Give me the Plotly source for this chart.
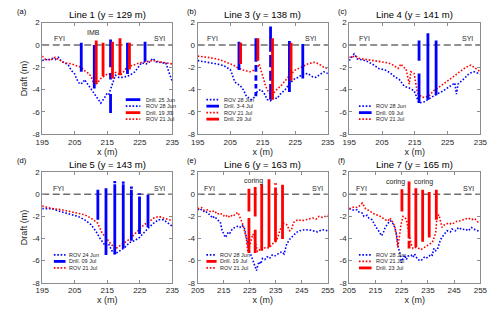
import plotly.graph_objects as go

BLUE = "#0000ff"
RED = "#ff0000"
FONT = "Liberation Sans, Arial, sans-serif"
TXT = "#262626"

# ---------------- data ----------------
y_tick_vals = [2, 0, -2, -4, -6, -8]
y_tick_text = ["2", "0", "-2", "-4", "-6", "-8"]
x_ticks_195 = [195, 205, 215, 225, 235]
x_ticks_205 = [205, 215, 225, 235, 245, 255]

titles = ["Line 1 (y = 129 m)", "Line 3 (y = 138 m)", "Line 4 (y = 141 m)",
          "Line 5 (y = 143 m)", "Line 6 (y = 163 m)", "Line 7 (y = 165 m)"]
panel_tags = ["(a)", "(b)", "(c)", "(d)", "(e)", "(f)"]

# (a) Line 1
a_rov_jun28_x = [195,196,197,198,199,200,201,202,203,204,205,205.5,206.5,207.5,208,209,210,211,212,213,
                 214,215,215.5,216.5,217.5,218.5,220,222,223.5,224.5,225.5,227,228,229,230,232,233,234,235]
a_rov_jun28_y = [-1.4,-1.3,-1.35,-1.2,-1.3,-1.1,-1.5,-1.6,-1.8,-2.3,-2.6,-3.0,-3.5,-3.4,-3.1,-3.5,-3.9,-4.4,-4.8,-5.2,
                 -4.8,-4.3,-4.4,-3.5,-2.7,-2.9,-2.9,-2.7,-2.4,-2.0,-1.6,-1.7,-1.5,-1.2,-1.5,-1.6,-1.6,-2.5,-3.3]
a_rov_jul21_x = [195,196,198,199,200,202,204,206,207,208,209,210,210.5,211,212,213,214,215,216,217,
                 218,219,220,221,222,223,224,225,227,229,231,233,235]
a_rov_jul21_y = [-1.0,-1.3,-1.3,-1.1,-1.3,-1.6,-1.7,-1.9,-2.0,-2.3,-2.5,-2.8,-3.3,-3.6,-3.4,-3.0,-2.8,-2.6,-2.6,-2.4,
                 -2.5,-2.7,-2.4,-2.0,-1.9,-1.8,-1.7,-1.6,-1.5,-1.4,-1.5,-1.6,-1.7]
a_drill_jun25_x = [207.0, 211.0, 216.0, 216.0, 216.0, 221.2, 226.6]
a_drill_jun25_top = [0.2, 0.0, 0.5, -2.5, -4.4, 0.2, 0.3]
a_drill_jun25_bot = [-2.4, -3.9, -2.0, -3.1, -6.1, -2.6, -1.5]
a_drill_jul19_x = [211.6, 213.7, 216.6, 218.9, 221.8]
a_drill_jul19_top = [0.4, 0.2, 0.3, 0.6, 0.2]
a_drill_jul19_bot = [-3.5, -2.8, -3.0, -2.7, -2.2]

# (b) Line 3
b_rov_jun28_x = [195,197,198,200,201,203,204,205,205.5,206.4,207.2,208,209,210,211,211.4,212.4,213.4,214.4,215.4,
                 216.4,217.4,218.4,219.4,220.4,221.9,223.4,224.9,226,226.8,228,228.8,230.3,231.3,232.3,233.8,235]
b_rov_jun28_y = [-1.4,-1.5,-1.55,-1.6,-1.7,-1.85,-2.0,-2.2,-2.55,-3.3,-3.5,-3.6,-4.0,-4.6,-4.8,-4.9,-4.7,-4.1,-4.0,-4.3,
                 -4.9,-5.0,-4.7,-4.8,-4.4,-4.0,-3.4,-3.0,-2.9,-2.7,-2.6,-2.55,-2.85,-2.9,-2.7,-2.4,-2.55]
b_rov_jul21_x = [195,197,198,200,201,203,204,206,207,209,211,212.4,213.4,213.9,214.5,215,215.9,216.9,218,218.9,
                 220.9,222.9,224.9,226.8,228.8,230.8,232.3,233.8,235]
b_rov_jul21_y = [-1.0,-1.05,-1.1,-1.2,-1.25,-1.45,-1.55,-1.8,-2.0,-2.25,-2.4,-2.25,-2.0,-1.7,-2.3,-2.8,-3.7,-4.3,-4.5,-4.1,
                 -3.55,-2.85,-2.25,-2.0,-1.7,-1.55,-1.7,-2.0,-2.1]
b_drill_jul03_x = [207.7, 212.9, 212.9, 212.9, 212.9, 212.9, 217.4, 217.4, 217.4, 217.4, 223.2, 227.3]
b_drill_jul03_top = [0.3, 0.6, -1.8, -2.7, -3.5, -4.2, 1.65, -0.9, -2.3, -3.5, 0.35, 0.1]
b_drill_jul03_bot = [-2.25, -1.5, -2.4, -3.2, -3.9, -4.6, -0.6, -2.0, -3.2, -4.9, -4.2, -3.0]
b_drill_jul29_x = [208.2, 213.5, 218.0, 223.7]
b_drill_jul29_top = [0.2, 0.6, 0.6, 0.2]
b_drill_jul29_bot = [-1.7, -1.4, -4.9, -3.2]

# (c) Line 4
c_rov_jun28_x = [195,196.5,197.5,198.5,200,202,204,206,207.5,208.9,210.3,211.8,213.3,214.8,215.5,
                 216.3,217.8,219.8,221.7,223.7,225.7,227.2,227.7,228.2,230.1,231.6,233.1,235]
c_rov_jun28_y = [-1.4,-0.8,-1.25,-1.3,-1.4,-1.7,-2.1,-2.25,-2.5,-2.85,-3.1,-3.7,-3.85,-4.1,-4.6,
                 -5.2,-5.1,-4.7,-4.4,-4.1,-3.7,-3.4,-4.4,-3.5,-3.0,-2.55,-2.4,-2.6]
c_rov_jul21_x = [195,197,198,200,203,204.9,206.9,208.4,209.9,210.8,211.5,212.3,213.0,213.3,213.8,
                 214.8,215.8,217.3,219.3,220.7,222.7,224.7,226.7,228.7,230.6,232.1,233.6,235]
c_rov_jul21_y = [-1.1,-1.0,-1.2,-1.3,-1.4,-1.55,-1.6,-1.8,-2.1,-1.7,-2.0,-2.1,-2.9,-3.5,-2.4,
                 -2.55,-4.3,-4.7,-4.6,-4.1,-3.7,-3.3,-2.85,-2.4,-2.0,-1.8,-2.1,-2.4]
c_drill_jul09_x = [216.3, 216.3, 219.0, 221.5]
c_drill_jul09_top = [0.4, -2.55, 1.05, 0.4]
c_drill_jul09_bot = [-1.4, -5.2, -4.9, -4.5]

# (d) Line 5
d_rov_jun24_x = [195,198,201,204,206,208,210,211.4,212.9,214.4,215.4,216.4,217.4,218.9,220.4,
                 221.9,223.4,224.9,226.3,227.8,229.3,230.8,232.3,233.8,235]
d_rov_jun24_y = [-1.3,-1.3,-1.6,-1.85,-2.0,-2.3,-2.75,-3.3,-4.05,-4.65,-4.5,-5.1,-5.4,-5.1,-4.8,
                 -4.35,-4.2,-3.9,-3.45,-3.0,-2.6,-2.3,-2.3,-2.6,-2.9]
d_rov_jul21_x = [195,198,201,204,206,208,210,212,213.4,214.9,216.4,217.4,218.9,220.4,221.9,
                 223.4,224.9,226.3,227.8,229.3,230.8,232.3,233.8,235]
d_rov_jul21_y = [-1.05,-1.3,-1.4,-1.6,-1.7,-1.85,-2.15,-2.6,-3.5,-4.05,-4.65,-4.95,-4.65,-4.35,-4.05,
                 -3.6,-3.2,-2.75,-2.5,-2.15,-2.0,-2.15,-2.3,-2.4]
d_drill_jul09_x = [212.1, 214.6, 217.3, 217.3, 219.9, 219.9, 222.4, 222.4, 224.9, 224.9, 227.5]
d_drill_jul09_top = [0.4, 0.55, 1.2, 0.9, 1.15, 0.9, 0.7, 0.4, 0.1, -0.2, -0.05]
d_drill_jul09_bot = [-2.3, -5.5, 1.0, -5.45, 0.95, -4.9, 0.5, -4.2, -0.05, -3.6, -3.0]

# (e) Line 6
e_rov_jun28_x = [205,206,206.9,208,208.7,210,210.6,211.5,212.5,213.7,214.3,215,215.6,216.2,216.8,
                 217.4,218.4,219.3,220.3,221.2,222.1,223,223.6,224.3,224.9,225.5,226.2,226.8,227.6,228.1,
                 228.6,229.2,229.9,230.8,231.7,232.6,233.6,234.5,235.5,236.4,237.3,238.2,239.2,240.4,241.7,
                 242.9,244.2,246,248.5,251,252.9,255]
e_rov_jun28_y = [-1.4,-1.3,-1.55,-1.5,-1.7,-1.9,-2.15,-2.0,-2.3,-2.5,-3.2,-3.6,-3.9,-3.7,-3.4,
                 -3.5,-3.1,-3.0,-2.9,-3.0,-2.8,-3.1,-3.8,-4.5,-5.2,-5.5,-6.0,-6.3,-6.9,-6.4,
                 -6.1,-6.3,-5.8,-5.9,-5.65,-5.8,-5.5,-5.6,-5.4,-5.3,-5.2,-5.4,-4.5,-4.05,-3.75,
                 -3.45,-3.3,-3.2,-3.25,-3.4,-3.2,-3.3]
e_rov_jul21_x = [205,206.5,207.5,209,210,211.5,212.5,213.7,215,215.6,216.8,217.4,218.7,219.3,220.5,
                 221.2,222.4,223.1,223.7,224.3,225,225.5,226.2,226.8,227.5,228,229.3,229.9,231.1,232.4,
                 233.6,234.9,235.5,236.1,236.7,237.4,238,239.2,239.8,240.4,241.1,241.7,242.3,243.6,245,
                 246.7,248,249.2,250.5,251.6,253,255]
e_rov_jul21_y = [-1.3,-1.2,-1.45,-1.4,-1.6,-1.5,-1.8,-1.7,-1.95,-1.85,-2.1,-1.9,-2.0,-1.8,-1.65,
                 -2.1,-2.75,-3.4,-4.05,-5.2,-4.6,-4.3,-3.6,-4.0,-4.6,-5.2,-4.9,-5.0,-4.8,-4.85,
                 -4.5,-4.3,-4.05,-3.6,-3.2,-2.9,-2.6,-2.75,-3.1,-3.3,-3.2,-2.6,-2.45,-2.3,-2.4,
                 -2.3,-2.2,-2.15,-2.25,-2.0,-2.1,-1.9]
e_drill_jul19_x = [224.7, 224.7, 227.1, 227.1, 229.6, 232.4, 234.9, 234.9, 237.6]
e_drill_jul19_top = [0.5, -2.15, 0.65, -3.2, 0.9, 1.35, 1.0, 0.6, 0.85]
e_drill_jul19_bot = [-1.55, -5.3, -2.0, -5.3, -5.1, -4.8, 0.85, -4.3, -4.05]

# (f) Line 7
f_rov_jun28_x = [205,206,206.9,208,208.7,210,210.6,211.8,212.5,213.7,214.3,215,216.2,217.4,218.1,
                 218.7,219.9,220.5,221.2,222.4,223.1,223.7,224.3,224.9,225.5,226.1,226.8,227.4,228.6,229.3,
                 229.9,231.1,232.4,233.6,234.2,235.5,236.1,236.7,237.3,238,238.6,239.2,239.8,241.1,242.3,
                 243.6,244.2,245.5,246.7,248,249.2,250.5,251.6,253,255]
f_rov_jun28_y = [-1.3,-1.4,-1.45,-1.4,-1.6,-1.7,-2.0,-1.9,-2.15,-2.3,-2.6,-2.9,-3.3,-3.75,-3.4,
                 -3.0,-2.6,-2.4,-2.45,-3.0,-3.7,-4.8,-5.3,-6.2,-5.8,-5.5,-5.9,-5.6,-5.5,-5.7,
                 -5.4,-5.9,-6.0,-5.7,-5.8,-5.6,-5.4,-5.5,-4.9,-5.1,-5.0,-4.5,-4.1,-3.65,-3.3,
                 -3.4,-3.15,-3.3,-3.0,-3.2,-3.15,-3.3,-3.0,-3.2,-3.4]
f_rov_jul21_x = [205,206,206.9,208,208.7,210,210.6,211.2,212,213.1,214.3,215,216.2,216.8,218,
                 218.7,219.9,220.5,221.8,222.4,223,223.5,224.1,224.7,225.5,226.2,226.8,227.4,228,228.6,
                 229.3,230.5,231.1,232.4,233,234.2,234.9,236.1,236.7,237.4,238,238.3,238.6,239.2,239.8,
                 240.4,241.1,241.7,242.9,244.2,246,247.3,248.5,250.4,251.6,252.9,254,255]
f_rov_jul21_y = [-1.3,-1.2,-1.15,-1.2,-1.1,-0.8,-1.0,-1.3,-1.4,-1.55,-1.7,-1.85,-1.9,-2.0,-2.2,
                 -2.3,-2.4,-2.15,-2.6,-3.0,-3.75,-4.8,-3.9,-2.8,-2.0,-2.1,-2.3,-3.0,-3.75,-4.5,
                 -4.9,-4.8,-4.85,-5.0,-4.9,-4.7,-4.6,-4.45,-4.35,-3.9,-3.45,-2.5,-2.0,-1.85,-2.6,
                 -3.0,-2.8,-2.75,-2.6,-2.7,-2.45,-2.4,-2.3,-2.15,-2.3,-2.2,-2.5,-2.6]
f_drill_jul23_x = [225.1, 227.8, 227.8, 230.4, 233.0, 235.5, 238.2]
f_drill_jul23_top = [0.45, 1.15, -4.2, 0.55, 0.4, 0.2, 0.4]
f_drill_jul23_bot = [-1.55, -4.0, -4.9, -4.8, -4.3, -3.9, -2.3]

# ---------------- helpers ----------------
def segs(xs, tops, bots):
    X, Y = [], []
    for x, t, b in zip(xs, tops, bots):
        X += [x, x, None]
        Y += [t, b, None]
    return X, Y

def rov(name, color, xs, ys):
    assert len(xs) == len(ys), name
    return dict(name=name, kind="rov", color=color, x=xs, y=ys)

def drill(name, color, xs, tops, bots):
    assert len(xs) == len(tops) == len(bots), name
    X, Y = segs(xs, tops, bots)
    return dict(name=name, kind="drill", color=color, x=X, y=Y)

# legend geometry in window pixels: (line start x, first row y, line length, text x)
panels = [
    dict(xr=[195, 235], xt=x_ticks_195,
         series=[rov("ROV 28 Jun", BLUE, a_rov_jun28_x, a_rov_jun28_y),
                 rov("ROV 21 Jul", RED, a_rov_jul21_x, a_rov_jul21_y),
                 drill("Drill. 25 Jun", BLUE, a_drill_jun25_x, a_drill_jun25_top, a_drill_jun25_bot),
                 drill("Drill. 19 Jul", RED, a_drill_jul19_x, a_drill_jul19_top, a_drill_jul19_bot)],
         legend_order=["Drill. 25 Jun", "ROV 28 Jun", "Drill. 19 Jul", "ROV 21 Jul"],
         legend_geo=(122, 98.3, 15, 140.5),
         notes=[("FYI", 200.2, 0.6), ("SYI", 231.0, 0.6), ("IMB", 210.9, 1.1)]),
    dict(xr=[195, 235], xt=x_ticks_195,
         series=[rov("ROV 28 Jun", BLUE, b_rov_jun28_x, b_rov_jun28_y),
                 rov("ROV 21 Jul", RED, b_rov_jul21_x, b_rov_jul21_y),
                 drill("Drill. 3-4 Jul", BLUE, b_drill_jul03_x, b_drill_jul03_top, b_drill_jul03_bot),
                 drill("Drill. 29 Jul", RED, b_drill_jul29_x, b_drill_jul29_top, b_drill_jul29_bot)],
         legend_order=["ROV 28 Jun", "Drill. 3-4 Jul", "ROV 21 Jul", "Drill. 29 Jul"],
         legend_geo=(205, 98.3, 13, 221),
         notes=[("FYI", 199.5, 0.6), ("SYI", 229.8, 0.6)]),
    dict(xr=[195, 235], xt=x_ticks_195,
         series=[rov("ROV 28 Jun", BLUE, c_rov_jun28_x, c_rov_jun28_y),
                 rov("ROV 21 Jul", RED, c_rov_jul21_x, c_rov_jul21_y),
                 drill("Drill. 09 Jul", BLUE, c_drill_jul09_x, c_drill_jul09_top, c_drill_jul09_bot)],
         legend_order=["ROV 28 Jun", "Drill. 09 Jul", "ROV 21 Jul"],
         legend_geo=(362, 105, 13, 377),
         notes=[("FYI", 199.8, 0.6), ("SYI", 231.0, 0.6)]),
    dict(xr=[195, 235], xt=x_ticks_195,
         series=[rov("ROV 24 Jun", BLUE, d_rov_jun24_x, d_rov_jun24_y),
                 rov("ROV 21 Jul", RED, d_rov_jul21_x, d_rov_jul21_y),
                 drill("Drill. 09 Jul", BLUE, d_drill_jul09_x, d_drill_jul09_top, d_drill_jul09_bot)],
         legend_order=["ROV 24 Jun", "Drill. 09 Jul", "ROV 21 Jul"],
         legend_geo=(48, 258.3, 12, 61.5),
         notes=[("FYI", 200.0, 0.55), ("SYI", 231.0, 0.55)]),
    dict(xr=[205, 255], xt=x_ticks_205,
         series=[rov("ROV 28 Jun", BLUE, e_rov_jun28_x, e_rov_jun28_y),
                 rov("ROV 21 Jul", RED, e_rov_jul21_x, e_rov_jul21_y),
                 drill("Drill. 19 Jul", RED, e_drill_jul19_x, e_drill_jul19_top, e_drill_jul19_bot)],
         legend_order=["ROV 28 Jun", "Drill. 19 Jul", "ROV 21 Jul"],
         legend_geo=(205, 258.3, 10.5, 216.5),
         notes=[("FYI", 209.5, 0.55), ("SYI", 251.0, 0.55), ("coring", 226.4, 1.2)]),
    dict(xr=[205, 255], xt=x_ticks_205,
         series=[rov("ROV 28 Jun", BLUE, f_rov_jun28_x, f_rov_jun28_y),
                 rov("ROV 21 Jul", RED, f_rov_jul21_x, f_rov_jul21_y),
                 drill("Drill. 23 Jul", RED, f_drill_jul23_x, f_drill_jul23_top, f_drill_jul23_bot)],
         legend_order=["ROV 28 Jun", "ROV 21 Jul", "Drill. 23 Jul"],
         legend_geo=(362, 258.3, 13, 377),
         notes=[("FYI", 209.8, 0.55), ("SYI", 250.5, 0.55), ("coring", 222.5, 1.1), ("coring", 233.3, 1.1)]),
]

# ---------------- layout geometry ----------------
# The page body has an 8 px margin, so the figure is sized to fit the 500x313 window
# and all window-pixel positions are converted to figure pixels (minus 8).
OFF = 8
W, H = 500 - OFF, 313 - OFF
col_px = [(36, 170), (196, 330), (352, 487)]   # window px
row_px = [(19, 134), (173, 287)]               # window px

def fx(px):
    return (px - OFF) / W

def fy(py):
    return 1 - (py - OFF) / H

ROV_DASH = "1.6px,1.8px"
fig = go.Figure()
annotations = []
shapes = []
layout_axes = {}

for i, p in enumerate(panels):
    r, c = divmod(i, 3)
    n = i + 1
    xa = "x" if n == 1 else f"x{n}"
    ya = "y" if n == 1 else f"y{n}"
    xkey = "xaxis" if n == 1 else f"xaxis{n}"
    ykey = "yaxis" if n == 1 else f"yaxis{n}"
    x0p, x1p = col_px[c]
    y0p, y1p = row_px[r]
    xdom = [fx(x0p), fx(x1p)]
    ydom = [fy(y1p), fy(y0p)]

    for s in p["series"]:
        if s["kind"] == "rov":
            line = dict(color=s["color"], width=1.6, dash=ROV_DASH)
        else:
            line = dict(color=s["color"], width=2.8)
        fig.add_trace(go.Scatter(x=s["x"], y=s["y"], mode="lines", line=line,
                                 name=s["name"], showlegend=False, xaxis=xa, yaxis=ya,
                                 connectgaps=False, hoverinfo="skip"))

    axis_common = dict(showline=True, linecolor="#8c8c8c", linewidth=1, mirror="ticks",
                       ticks="inside", ticklen=3, tickcolor="#8c8c8c", showgrid=False,
                       zeroline=False, tickfont=dict(family=FONT, size=8, color=TXT))
    layout_axes[xkey] = dict(axis_common, domain=xdom, anchor=ya, range=p["xr"],
                             tickvals=p["xt"], ticktext=[str(v) for v in p["xt"]],
                             title=dict(text="x (m)", font=dict(family=FONT, size=9, color=TXT),
                                        standoff=1))
    ydict = dict(axis_common, domain=ydom, anchor=xa, range=[-8, 2],
                 tickvals=y_tick_vals, ticktext=y_tick_text)
    if c == 0:
        ydict["title"] = dict(text="Draft (m)", font=dict(family=FONT, size=9, color=TXT), standoff=3)
    layout_axes[ykey] = ydict

    # zero reference line
    shapes.append(dict(type="line", xref=f"{xa} domain", yref=ya, x0=0, x1=1, y0=0, y1=0,
                       line=dict(color="#6e6e6e", width=1.3, dash="7px,3.5px"), layer="below"))

    # title and panel tag
    annotations.append(dict(text=titles[i], xref="paper", yref="paper",
                            x=(xdom[0] + xdom[1]) / 2, y=fy(y0p - 8), showarrow=False,
                            xanchor="center", yanchor="middle",
                            font=dict(family=FONT, size=9.5, color="black")))
    tag_x = [8, 187, 343][c]
    annotations.append(dict(text=panel_tags[i], xref="paper", yref="paper",
                            x=max(fx(tag_x - 4.5), 0), y=fy(y0p - 12), showarrow=False,
                            xanchor="left", yanchor="middle",
                            font=dict(family=FONT, size=7.5, color="black")))

    # text notes in data coords
    for t, tx, ty in p["notes"]:
        annotations.append(dict(text=t, x=tx, y=ty, xref=xa, yref=ya, showarrow=False,
                                xanchor="center", yanchor="middle",
                                font=dict(family=FONT, size=7, color=TXT)))

    # legend (drawn inside the axes)
    lx, ly, llen, tx = p["legend_geo"]
    by_name = {s["name"]: s for s in p["series"]}
    for k, nm in enumerate(p["legend_order"]):
        s = by_name[nm]
        yy = fy(ly + k * 6.7)
        if s["kind"] == "rov":
            ln = dict(color=s["color"], width=1.6, dash=ROV_DASH)
        else:
            ln = dict(color=s["color"], width=2.8)
        shapes.append(dict(type="line", xref="paper", yref="paper",
                           x0=fx(lx), x1=fx(lx + llen), y0=yy, y1=yy, line=ln))
        annotations.append(dict(text=nm, xref="paper", yref="paper",
                                x=fx(tx), y=yy, showarrow=False, xanchor="left",
                                yanchor="middle", font=dict(family=FONT, size=5.5, color=TXT)))

fig.update_layout(width=W, height=H, margin=dict(l=0, r=0, t=0, b=0),
                  paper_bgcolor="white", plot_bgcolor="white", showlegend=False,
                  annotations=annotations, shapes=shapes, **layout_axes)
fig.write_html("out.html")
